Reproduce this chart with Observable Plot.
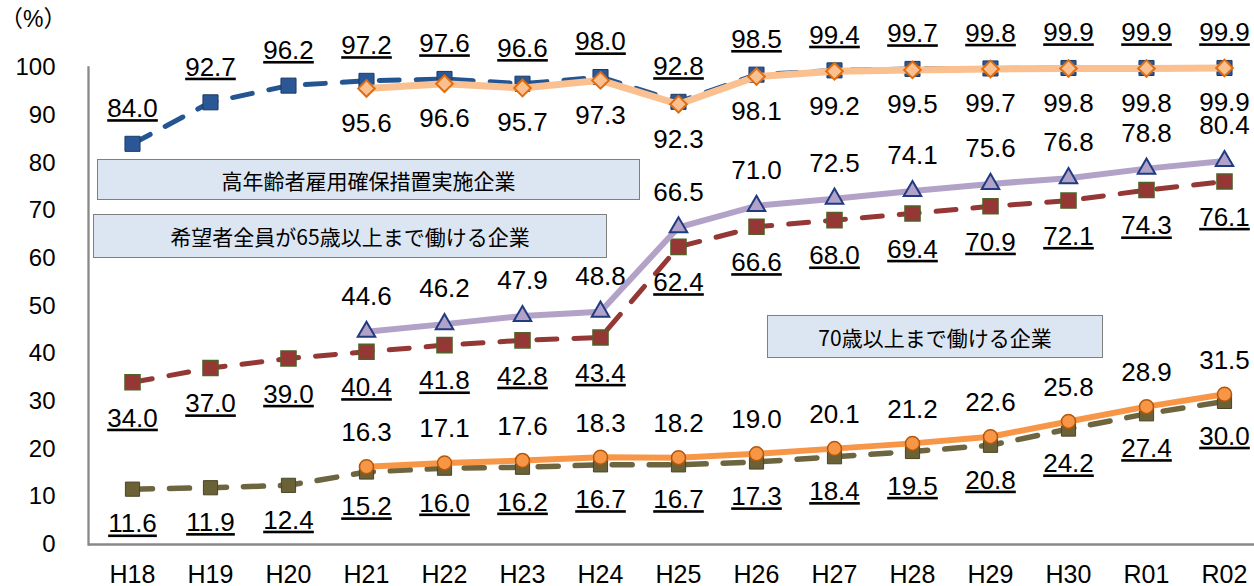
<!DOCTYPE html>
<html><head><meta charset="utf-8">
<script src="https://cdn.jsdelivr.net/npm/d3@7"></script>
<script src="https://cdn.jsdelivr.net/npm/@observablehq/plot@0.6"></script>
<style>
body{margin:0;background:#fff;}
#wrap{position:relative;width:1254px;height:586px;font-family:"Liberation Sans",Arial,sans-serif;}
#wrap svg{position:absolute;left:0;top:0;overflow:visible;}
.box{position:absolute;background:#dce6f2;border:1px solid #7f7f7f;box-sizing:border-box;display:flex;align-items:center;justify-content:center;font-family:"Noto Sans CJK JP",sans-serif;font-size:21px;color:#000;white-space:nowrap;}
.unit{position:absolute;left:0;top:6px;font-family:"Liberation Sans","Noto Sans CJK JP",sans-serif;font-size:23px;line-height:1.2;color:#000;}
g[aria-description="ul"] text{text-decoration:underline;}
</style></head><body><div id="wrap"></div>
<script>
// Fiscal years
const years = ["H18","H19","H20","H21","H22","H23","H24","H25","H26","H27","H28","H29","H30","R01","R02"];
const yTicks = [0,10,20,30,40,50,60,70,80,90,100];

// 高年齢者雇用確保措置実施企業 (H18-R02, underlined labels)
const securedA = [84.0,92.7,96.2,97.2,97.6,96.6,98.0,92.8,98.5,99.4,99.7,99.8,99.9,99.9,99.9];
// 高年齢者雇用確保措置実施企業 (H21-R02, new basis)
const securedB = [95.6,96.6,95.7,97.3,92.3,98.1,99.2,99.5,99.7,99.8,99.8,99.9];
// 希望者全員が65歳以上まで働ける企業
const all65A = [34.0,37.0,39.0,40.4,41.8,42.8,43.4,62.4,66.6,68.0,69.4,70.9,72.1,74.3,76.1];
const all65B = [44.6,46.2,47.9,48.8,66.5,71.0,72.5,74.1,75.6,76.8,78.8,80.4];
// 70歳以上まで働ける企業
const over70A = [11.6,11.9,12.4,15.2,16.0,16.2,16.7,16.7,17.3,18.4,19.5,20.8,24.2,27.4,30.0];
const over70B = [16.3,17.1,17.6,18.3,18.2,19.0,20.1,21.2,22.6,25.8,28.9,31.5];

const legendLabels = ["高年齢者雇用確保措置実施企業","希望者全員が65歳以上まで働ける企業","70歳以上まで働ける企業"];
const unitLabel = "（%）";

const rows = (vals, start) => vals.map((v, i) => ({year: years[i + start], value: v}));

function series(data, o) {
  return [
    Plot.line(data, {x: "year", y: "value", stroke: o.line, strokeWidth: o.lw, strokeDasharray: o.dash, strokeLinecap: "round", strokeLinejoin: "round"}),
    Plot.dot(data, {x: "year", y: "value", symbol: o.symbol, r: o.r, fill: o.fill, stroke: o.stroke, strokeWidth: o.sw, fillOpacity: 1})
  ];
}
function labels(data, dy, ul) {
  return Plot.text(data, {x: "year", y: "value", text: d => d.value.toFixed(1), dy, fontSize: 26, fill: "#000", ariaDescription: ul ? "ul" : "plain"});
}

const s1 = rows(securedA, 0), s2 = rows(securedB, 3);
const s3 = rows(all65A, 0), s4 = rows(all65B, 3);
const s5 = rows(over70A, 0), s6 = rows(over70B, 3);

const chart = Plot.plot({
  width: 1254, height: 586,
  marginTop: 67, marginBottom: 42, marginLeft: 88, marginRight: 0,
  x: {type: "band", domain: years, range: [88, 1267], padding: 0, label: null},
  y: {domain: [0, 100], range: [544, 67], label: null},
  style: {fontFamily: "'Liberation Sans', Arial, sans-serif", color: "#000", background: "transparent"},
  marks: [
    Plot.frame({anchor: "left", stroke: "#898989", strokeWidth: 2.3}),
    Plot.ruleY([0], {stroke: "#898989", strokeWidth: 2.6}),
    Plot.axisY({ticks: yTicks, tickSize: 0, tickPadding: 33, fontSize: 24, label: null, tickFormat: d => String(d)}),
    Plot.axisX({tickSize: 0, tickPadding: 21, fontSize: 25, label: null}),
    ...series(s1, {line: "#245593", lw: 5, dash: "20,17", symbol: "square", r: 8.5, fill: "#2b5797", stroke: "#1a3a66", sw: 1}),
    ...series(s3, {line: "#953735", lw: 5, dash: "20,17", symbol: "square", r: 8.5, fill: "#953735", stroke: "#4f6228", sw: 1.5}),
    ...series(s5, {line: "#6d6440", lw: 5.5, dash: "20,17", symbol: "square", r: 8, fill: "#6a6137", stroke: "#4a4526", sw: 1}),
    ...series(s2, {line: "#fac090", lw: 7, dash: null, symbol: "diamond2", r: 7.5, fill: "#fbc08f", stroke: "#e46c0a", sw: 2}),
    ...series(s4, {line: "#b3a2c7", lw: 6, dash: null, symbol: "triangle", r: 6.5, fill: "#b3a2c7", stroke: "#1f3b82", sw: 2}),
    ...series(s6, {line: "#f79646", lw: 6, dash: null, symbol: "circle", r: 7, fill: "#f79646", stroke: "#b65708", sw: 1.5}),
    labels(s1, -35, true),
    labels(s2, 35, false),
    labels(s3, 36, true),
    labels(s4, -35, false),
    labels(s5, 35, true),
    labels(s6, -34, false)
  ]
});

const wrap = document.getElementById("wrap");
wrap.appendChild(chart);
const unit = document.createElement("div");
unit.className = "unit"; unit.textContent = unitLabel;
wrap.appendChild(unit);
const boxes = [
  {left: 97, top: 159, width: 543, height: 41},
  {left: 93, top: 214, width: 514, height: 44},
  {left: 767, top: 315, width: 336, height: 43}
];
legendLabels.forEach((t, i) => {
  const b = document.createElement("div");
  b.className = "box"; b.textContent = t;
  Object.assign(b.style, {left: boxes[i].left + "px", top: boxes[i].top + "px", width: boxes[i].width + "px", height: boxes[i].height + "px"});
  wrap.appendChild(b);
});
</script></body></html>
